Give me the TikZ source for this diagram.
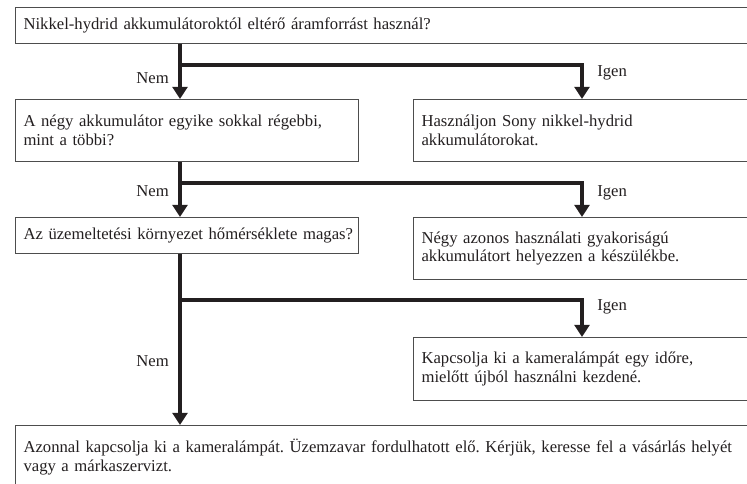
\documentclass[tikz,border=0pt]{standalone}
\usepackage{fontspec}
\setmainfont{Liberation Serif}
\usetikzlibrary{arrows.meta}
\frenchspacing
\hyphenpenalty=10000
\definecolor{vonal}{HTML}{231F20}
\definecolor{keret}{HTML}{4D4D4D}
\tikzset{
  doboz/.style={draw=keret, line width=0.8pt, anchor=north west, align=left,
    inner xsep=6pt, inner ysep=0pt, text=vonal, font=\fontsize{12.5}{13.9}\selectfont},
  ag/.style={draw=vonal, line width=2.6pt, -{Triangle[width=11pt,length=9pt]}},
  cimke/.style={text=vonal, inner sep=0pt, font=\fontsize{12.5}{13.9}\selectfont},
}
\begin{document}
\begin{tikzpicture}[x=0.75pt, y=-0.75pt]
    \useasboundingbox (0,0) rectangle (747,484);
    \clip (0,0) rectangle (747,484);

    % kérdések
    \node[doboz, text width=540.75pt, minimum height=27pt] (q1) at (15,7)
        {Nikkel-hydrid akkumulátoroktól eltérő áramforrást használ?};
    \node[doboz, text width=245.25pt, minimum height=46.5pt] (q2) at (15,99)
        {A négy akkumulátor egyike sokkal régebbi,\\mint a többi?};
    \node[doboz, text width=245.25pt, minimum height=27pt] (q3) at (15,217)
        {\mbox{Az üzemeltetési környezet hőmérséklete magas?}};

    % válaszok
    \node[doboz, text width=242.25pt, minimum height=46.5pt] (v1) at (413,99)
        {Használjon Sony nikkel-hydrid\\akkumulátorokat.};
    \node[doboz, text width=242.25pt, minimum height=46.5pt] (v2) at (413,217)
        {Négy azonos használati gyakoriságú\\akkumulátort helyezzen a készülékbe.};
    \node[doboz, text width=242.25pt, minimum height=47.25pt] (v3) at (413,337)
        {Kapcsolja ki a kameralámpát egy időre,\\mielőtt újból használni kezdené.};
    \node[doboz, text width=560pt, minimum height=47.25pt] (v4) at (15,425)
        {Azonnal kapcsolja ki a kameralámpát. Üzemzavar fordulhatott elő. Kérjük, keresse fel a vásárlás helyét\\vagy a márkaszervizt.};

    % elágazások
    \coordinate (el1) at (180,65);
    \coordinate (el2) at (180,183);
    \coordinate (el3) at (180,300);
    \coordinate (jobb) at (582,0);

    \draw[ag] (q1.south -| el1) -- (q2.north -| el1);
    \draw[ag] (el1) -| (v1.north -| jobb);
    \draw[ag] (q2.south -| el2) -- (q3.north -| el2);
    \draw[ag] (el2) -| (v2.north -| jobb);
    \draw[ag] (q3.south -| el3) -- (v4.north -| el3);
    \draw[ag] (el3) -| (v3.north -| jobb);

    % feliratok
    \node[cimke, anchor=base east] (nem1) at (169,84) {Nem};
    \node[cimke, anchor=base west] (igen1) at (597,77) {Igen};
    \node[cimke, anchor=base east] (nem2) at (169,197) {Nem};
    \node[cimke, anchor=base west] (igen2) at (597,197) {Igen};
    \node[cimke, anchor=base east] (nem3) at (169,367) {Nem};
    \node[cimke, anchor=base west] (igen3) at (597,311) {Igen};
\end{tikzpicture}
\end{document}
